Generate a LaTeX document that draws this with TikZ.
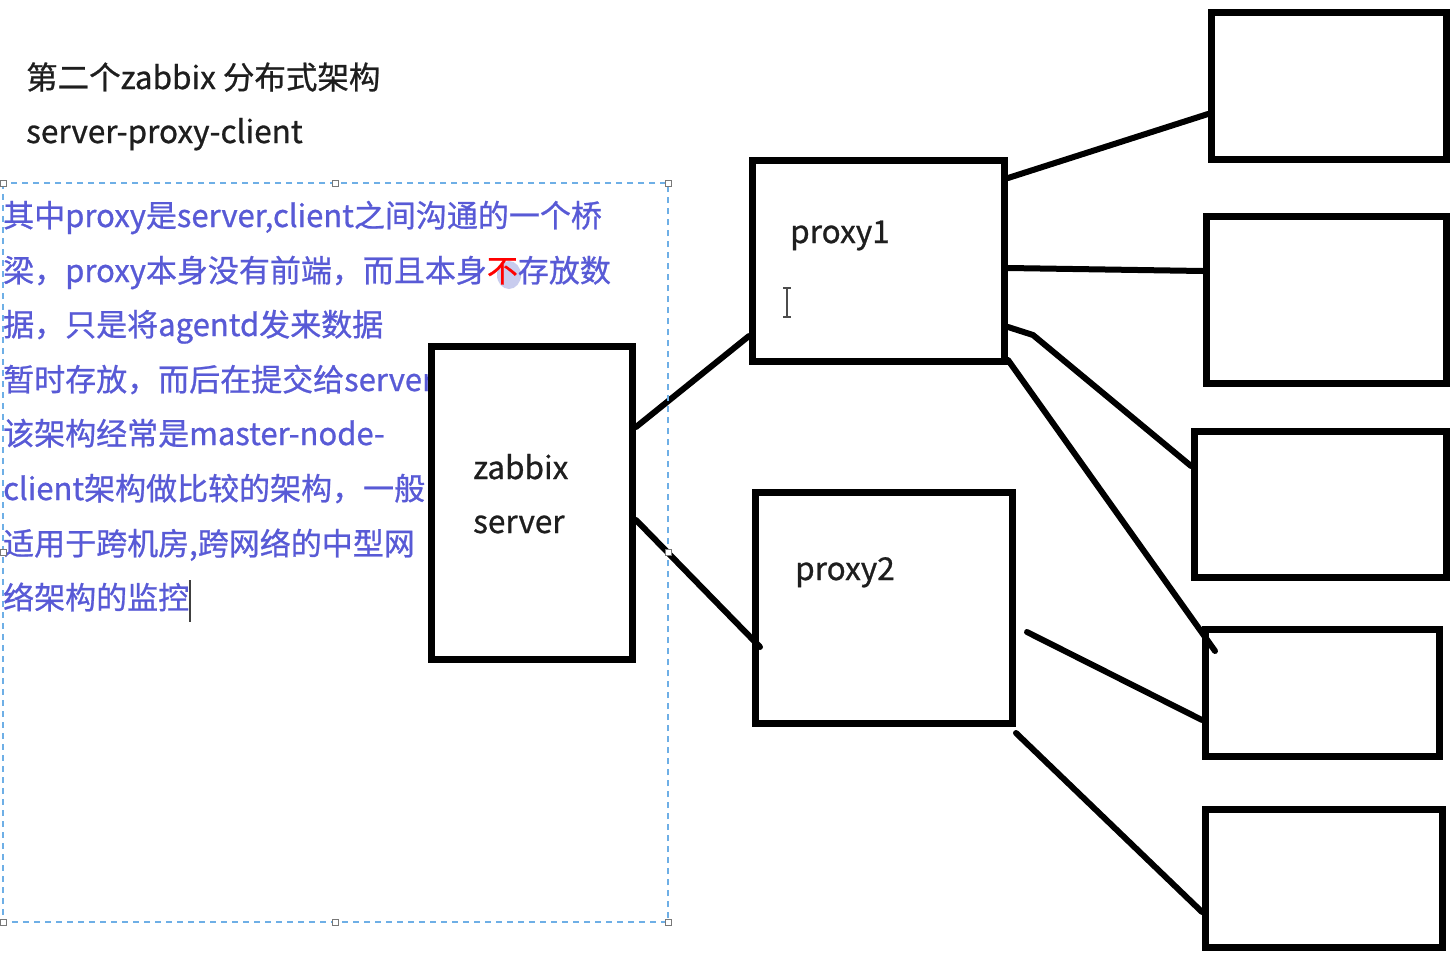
\documentclass[tikz,border=0pt]{standalone}
\usepackage{fontspec}
\setmainfont{Noto Sans CJK SC}[FakeBold=0.8]
\definecolor{bluetxt}{RGB}{88,90,214}
\definecolor{titletxt}{RGB}{30,30,30}
\definecolor{dashblue}{RGB}{110,175,230}
\definecolor{blob}{RGB}{200,204,238}
\definecolor{handle}{RGB}{120,120,120}
\begin{document}
\begin{tikzpicture}[x=1pt,y=-1pt,
  box/.style={draw=black, line width=7pt, inner sep=0pt},
  conn/.style={draw=black, line width=6pt, line cap=round, line join=round},
  lbl/.style={anchor=base west, inner sep=0pt, font=\fontsize{31.5}{31.5}\selectfont, text=titletxt},
  ttl/.style={anchor=base west, inner sep=0pt, font=\fontsize{31.5}{31.5}\selectfont, text=titletxt},
  desc/.style={anchor=base west, inner sep=0pt, font=\fontsize{31}{31}\selectfont, text=bluetxt},
  hdl/.style={draw=handle, fill=white, line width=1pt, minimum size=6pt, inner sep=0pt},
  dashbox/.style={draw=dashblue, line width=2pt, dash pattern=on 6pt off 5pt}]
\useasboundingbox (0,0) rectangle (1451,959);
\fill[white] (0,0) rectangle (1451,959);

% title
\node[ttl] (t1) at (26,89) {第二个zabbix 分布式架构};
\node[ttl] (t2) at (26,143) {server-proxy-client};

% highlight blob behind the red character
\fill[blob] (509,275) ellipse [x radius=12, y radius=14];

% description text
\node[desc] (d1) at (3,227) {其中proxy是server,client之间沟通的一个桥};
\node[desc] (d2) at (3,282) {梁，proxy本身没有前端，而且本身\textcolor{red}{不}存放数};
\node[desc] (d3) at (3,336) {据，只是将agentd发来数据};
\node[desc] (d4) at (3,391) {暂时存放，而后在提交给server};
\node[desc] (d5) at (3,445) {该架构经常是master-node-};
\node[desc] (d6) at (3,500) {client架构做比较的架构，一般};
\node[desc] (d7) at (3,555) {适用于跨机房,跨网络的中型网};
\node[desc] (d8) at (3,609) {络架构的监控};
\draw[black!75, line width=2pt] (190,580) -- (190,622);

% boxes
\node[box, minimum width=201pt, minimum height=313pt] (srv) at (532,503) {};
\node[box, minimum width=252pt, minimum height=201pt] (p1) at (878.5,261) {};
\node[box, minimum width=257pt, minimum height=231pt] (p2) at (884,608) {};
\node[box, minimum width=235pt, minimum height=147pt] (c1) at (1329,86) {};
\node[box, minimum width=240pt, minimum height=167pt] (c2) at (1326.5,300) {};
\node[box, minimum width=252pt, minimum height=146pt] (c3) at (1320.5,504.5) {};
\node[box, minimum width=234pt, minimum height=127pt] (c4) at (1322.5,693) {};
\node[box, minimum width=237pt, minimum height=138pt] (c5) at (1324,878.5) {};

% labels
\node[lbl] (lsrv1) at (473,479) {zabbix};
\node[lbl] (lsrv2) at (473,533) {server};
\node[lbl] (lp1) at (790,243) {proxy1};
\node[lbl] (lp2) at (795,580) {proxy2};

% I-beam cursor
\draw[black!70, line width=1.5pt] (783,288) -- (791,288) (787,288) -- (787,317) (783,317) -- (791,317);

% connectors
\coordinate (k1) at (1033,335);
\coordinate (c4in) at (1215,651);
\coordinate (p2s) at (1027,632);
\draw[conn] (srv.east |- 0,427) -- (p1.west |- 0,336);
\draw[conn] (srv.east |- 0,520) -- (760,647);
\draw[conn] (p1.east |- 0,178) -- (c1.west |- 0,114);
\draw[conn] (p1.east |- 0,268) -- (c2.west |- 0,271);
\draw[conn] (p1.east |- 0,327) -- (k1) -- (c3.west |- 0,466);
\draw[conn] (p1.east |- 0,360) -- (c4in);
\draw[conn] (p2s) -- (c4.west |- 0,720);
\draw[conn] (p2.east |- 0,733) -- (c5.west |- 0,912);

% dashed selection frame with handles
\draw[dashbox] (3,183) rectangle (668,922);
\foreach \p/\n in {{3,183}/h1,{335,183}/h2,{668,183}/h3,{3,552}/h4,{668,552}/h5,{3,922}/h6,{335,922}/h7,{668,922}/h8}
  \node[hdl] (\n) at (\p) {};
\end{tikzpicture}
\end{document}
